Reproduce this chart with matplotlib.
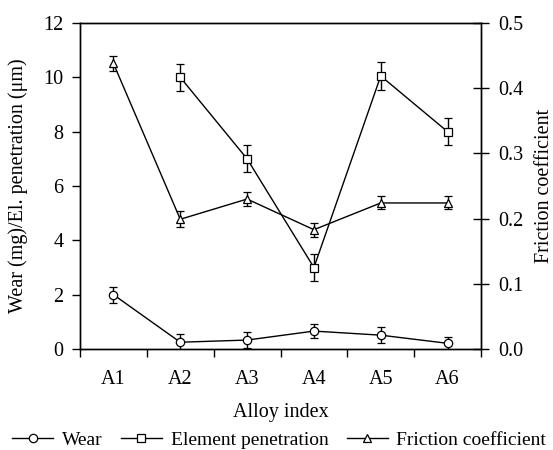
import matplotlib

matplotlib.use('Agg')
import matplotlib.pyplot as plt
from matplotlib.lines import Line2D
from matplotlib.ticker import FixedLocator, FormatStrFormatter

# Data
alloys = ["A1", "A2", "A3", "A4", "A5", "A6"]

wear = [2.0, 0.25, 0.33, 0.66, 0.51, 0.21]
wear_err = [0.3, 0.3, 0.28, 0.27, 0.3, 0.25]

# Element penetration has no value for A1
pen_idx = [1, 2, 3, 4, 5]
penetration = [10.0, 7.0, 3.0, 10.05, 8.0]
pen_err = [0.5, 0.5, 0.5, 0.5, 0.5]

friction = [0.438, 0.199, 0.230, 0.183, 0.224, 0.224]
friction_err = [0.011, 0.012, 0.011, 0.011, 0.01, 0.01]

plt.rcParams['font.family'] = ['Liberation Serif', 'DejaVu Serif']
FS = 14.5


def main():
    fig = plt.figure(figsize=(5.53, 4.5), dpi=100)
    ax = fig.add_axes([0.1447, 0.2244, 0.7251, 0.7245])
    ax2 = ax.twinx()

    x = list(range(len(alloys)))
    style = dict(color='black', lw=1.0, mfc='white', mec='black', mew=0.9,
                 ms=6, capsize=2.8, elinewidth=1.0, capthick=1.0)

    ax.errorbar(x, wear, yerr=wear_err, marker='o', **style)
    ax.errorbar(pen_idx, penetration, yerr=pen_err, marker='s', **style)
    ax2.errorbar(x, friction, yerr=friction_err, marker='^', **style)

    ax.set_xlim(-0.5, len(alloys) - 0.5)
    ax.set_ylim(0, 12)
    ax2.set_ylim(0, 0.5)

    ax.set_xticks(x)
    ax.set_xticklabels(alloys, fontsize=FS)
    ax.xaxis.set_minor_locator(FixedLocator([i - 0.5 for i in range(len(alloys) + 1)]))
    ax.tick_params(axis='x', which='major', length=0, pad=15)
    ax.tick_params(axis='x', which='minor', length=6, width=1.0, direction='out')

    ax.set_yticks([0, 2, 4, 6, 8, 10, 12])
    ax.tick_params(axis='y', length=6, width=1.0, direction='out', labelsize=FS, pad=6)

    ax2.set_yticks([0.0, 0.1, 0.2, 0.3, 0.4, 0.5])
    ax2.yaxis.set_major_formatter(FormatStrFormatter('%.1f'))
    ax2.tick_params(axis='y', length=11, width=1.0, direction='inout', labelsize=FS, pad=7)

    for a in (ax, ax2):
        for s in a.spines.values():
            s.set_linewidth(1.0)

    ax.set_xlabel("Alloy index", fontsize=FS, labelpad=10)
    ax.set_ylabel("Wear (mg)/El. penetration (μm)", fontsize=FS, labelpad=11)
    ax2.set_ylabel("Friction coefficient", fontsize=FS, labelpad=8)

    mk = dict(color='black', lw=1.0, mfc='white', mec='black', mew=0.9, ms=6)
    handles = [Line2D([], [], marker='o', **mk),
               Line2D([], [], marker='s', **mk),
               Line2D([], [], marker='^', **mk)]
    fig.legend(handles, ['Wear', 'Element penetration', 'Friction coefficient'],
               loc='lower center', bbox_to_anchor=(0.505, -0.024), ncol=3, frameon=False,
               fontsize=14, handlelength=2.1, columnspacing=0.95, handletextpad=0.45,
               borderaxespad=0.2)

    fig.savefig("out.png", dpi=100)
    plt.close(fig)


if __name__ == "__main__":
    main()
